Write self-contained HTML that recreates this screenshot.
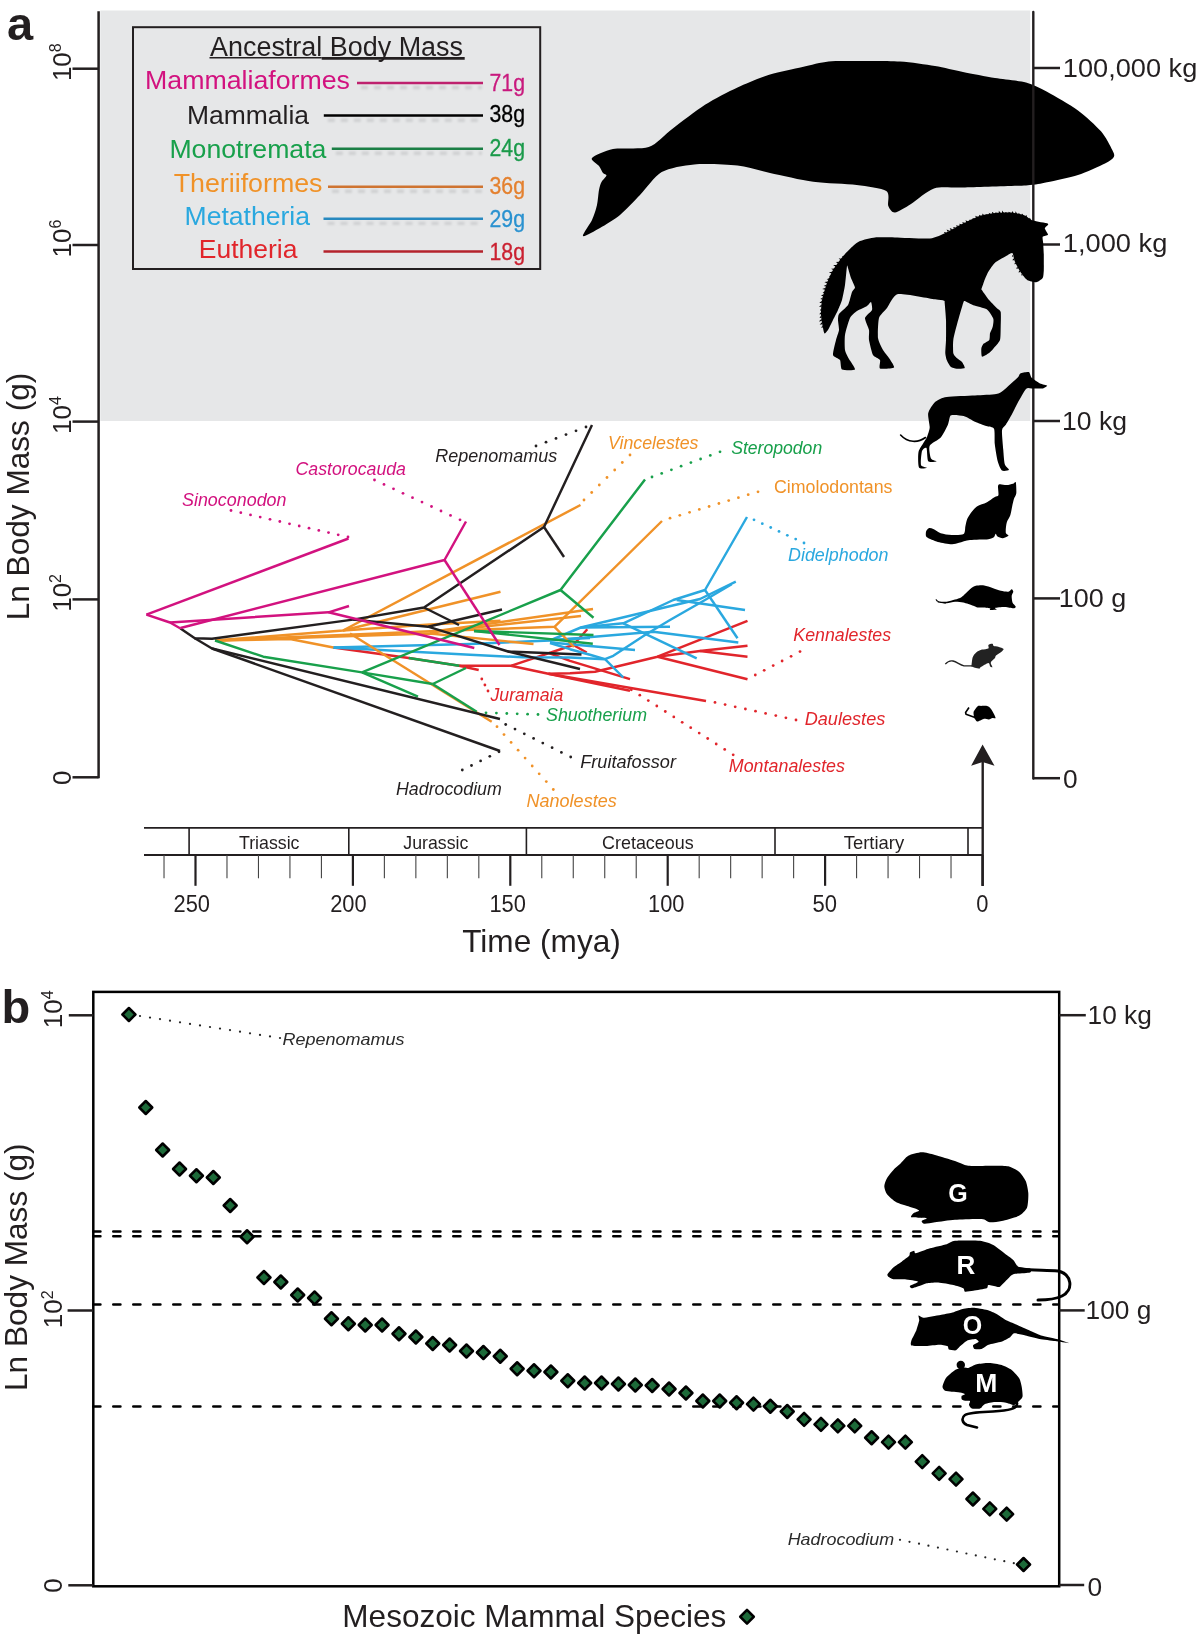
<!DOCTYPE html>
<html><head><meta charset="utf-8"><title>Mammal body mass</title>
<style>html,body{margin:0;padding:0;background:#fff;width:1200px;height:1634px;overflow:hidden;font-family:'Liberation Sans',sans-serif}</style>
</head><body>
<svg width="1200" height="1634" viewBox="0 0 1200 1634" style="position:absolute;left:0;top:0;font-family:'Liberation Sans', sans-serif;will-change:transform">
<rect x="0" y="0" width="1200" height="1634" fill="#ffffff"/>
<defs><filter id="blur1" filterUnits="userSpaceOnUse" x="0" y="0" width="1200" height="400"><feGaussianBlur stdDeviation="0.9"/></filter></defs>
<rect x="100.3" y="10.5" width="929.9" height="410.5" fill="#e6e7e8"/>
<text x="7" y="40" font-size="47" fill="#231f20" text-anchor="start" font-weight="bold" font-style="normal" >a</text>
<line x1="98.6" y1="11.2" x2="98.6" y2="778.3" stroke="#231f20" stroke-width="2.5" />
<line x1="72.5" y1="68.7" x2="98.6" y2="68.7" stroke="#231f20" stroke-width="2.5" />
<line x1="72.5" y1="245" x2="98.6" y2="245" stroke="#231f20" stroke-width="2.5" />
<line x1="72.5" y1="421.6" x2="98.6" y2="421.6" stroke="#231f20" stroke-width="2.5" />
<line x1="72.5" y1="599.4" x2="98.6" y2="599.4" stroke="#231f20" stroke-width="2.5" />
<line x1="72.5" y1="777.3" x2="98.6" y2="777.3" stroke="#231f20" stroke-width="2.5" />
<text transform="translate(70.6,81.10000000000001) rotate(-90)" x="0" y="0" font-size="26" fill="#231f20">10<tspan font-size="16" dy="-9.2">8</tspan></text>
<text transform="translate(70.6,257.4) rotate(-90)" x="0" y="0" font-size="26" fill="#231f20">10<tspan font-size="16" dy="-9.2">6</tspan></text>
<text transform="translate(70.6,434.0) rotate(-90)" x="0" y="0" font-size="26" fill="#231f20">10<tspan font-size="16" dy="-9.2">4</tspan></text>
<text transform="translate(70.6,611.8) rotate(-90)" x="0" y="0" font-size="26" fill="#231f20">10<tspan font-size="16" dy="-9.2">2</tspan></text>
<text transform="translate(70.8,777.8) rotate(-90)" x="0" y="0" font-size="26" fill="#231f20" text-anchor="middle">0</text>
<text transform="translate(29.4,620.3) rotate(-90)" x="0" y="0" font-size="31.6" fill="#231f20">Ln Body Mass (g)</text>
<line x1="1033.2" y1="68" x2="1060" y2="68" stroke="#231f20" stroke-width="2.5" />
<line x1="1033.2" y1="244.5" x2="1060" y2="244.5" stroke="#231f20" stroke-width="2.5" />
<line x1="1033.2" y1="421" x2="1060" y2="421" stroke="#231f20" stroke-width="2.5" />
<line x1="1033.2" y1="598.4" x2="1060" y2="598.4" stroke="#231f20" stroke-width="2.5" />
<line x1="1033.2" y1="778.2" x2="1060" y2="778.2" stroke="#231f20" stroke-width="2.5" />
<text x="1062.8" y="76.8" font-size="26.3" fill="#231f20" text-anchor="start" font-weight="normal" font-style="normal" textLength="134.5" lengthAdjust="spacingAndGlyphs" >100,000 kg</text>
<text x="1062.8" y="251.7" font-size="26.3" fill="#231f20" text-anchor="start" font-weight="normal" font-style="normal" textLength="104.5" lengthAdjust="spacingAndGlyphs" >1,000 kg</text>
<text x="1062" y="429.8" font-size="26.3" fill="#231f20" text-anchor="start" font-weight="normal" font-style="normal" textLength="65" lengthAdjust="spacingAndGlyphs" >10 kg</text>
<text x="1058.8" y="607" font-size="26.3" fill="#231f20" text-anchor="start" font-weight="normal" font-style="normal" textLength="67.5" lengthAdjust="spacingAndGlyphs" >100 g</text>
<text x="1063" y="788" font-size="26.3" fill="#231f20" text-anchor="start" font-weight="normal" font-style="normal" >0</text>
<rect x="133" y="27.2" width="407.2" height="241.8" fill="none" stroke="#231f20" stroke-width="2"/>
<text x="210" y="56" font-size="26.8" fill="#231f20" text-anchor="start" font-weight="normal" font-style="normal" textLength="253" lengthAdjust="spacingAndGlyphs" >Ancestral Body Mass</text>
<line x1="209.5" y1="57.7" x2="321.7" y2="57.7" stroke="#231f20" stroke-width="1.4" />
<line x1="321.7" y1="58.4" x2="464.7" y2="58.4" stroke="#231f20" stroke-width="2.6" />
<text x="145" y="89" font-size="26.3" fill="#d2127f" text-anchor="start" font-weight="normal" font-style="normal" textLength="205" lengthAdjust="spacingAndGlyphs" >Mammaliaformes</text>
<line x1="361" y1="87.5" x2="482" y2="87.5" stroke="#cfd0d2" stroke-width="3.4" stroke-dasharray="7 6" filter="url(#blur1)"/>
<line x1="357" y1="82.9" x2="483" y2="82.9" stroke="#be216e" stroke-width="2.5" />
<text x="489.5" y="90.9" font-size="23.5" fill="#c9197d" text-anchor="start" font-weight="normal" font-style="normal" textLength="35.5" lengthAdjust="spacingAndGlyphs" stroke="#c9197d" stroke-width="0.3">71g</text>
<text x="187" y="124" font-size="26.3" fill="#231f20" text-anchor="start" font-weight="normal" font-style="normal" textLength="122" lengthAdjust="spacingAndGlyphs" >Mammalia</text>
<line x1="327.8" y1="120.19999999999999" x2="482" y2="120.19999999999999" stroke="#cfd0d2" stroke-width="3.4" stroke-dasharray="7 6" filter="url(#blur1)"/>
<line x1="323.8" y1="115.6" x2="483" y2="115.6" stroke="#000000" stroke-width="2.5" />
<text x="489.5" y="122.4" font-size="23.5" fill="#000000" text-anchor="start" font-weight="normal" font-style="normal" textLength="35.5" lengthAdjust="spacingAndGlyphs" stroke="#000000" stroke-width="0.3">38g</text>
<text x="169.4" y="157.6" font-size="26.3" fill="#18a04b" text-anchor="start" font-weight="normal" font-style="normal" textLength="157" lengthAdjust="spacingAndGlyphs" >Monotremata</text>
<line x1="335.8" y1="153.29999999999998" x2="482" y2="153.29999999999998" stroke="#cfd0d2" stroke-width="3.4" stroke-dasharray="7 6" filter="url(#blur1)"/>
<line x1="331.8" y1="148.7" x2="483" y2="148.7" stroke="#1b7f45" stroke-width="2.5" />
<text x="489.5" y="155.8" font-size="23.5" fill="#1a9a4a" text-anchor="start" font-weight="normal" font-style="normal" textLength="35.5" lengthAdjust="spacingAndGlyphs" stroke="#1a9a4a" stroke-width="0.3">24g</text>
<text x="173.7" y="191.6" font-size="26.3" fill="#f09228" text-anchor="start" font-weight="normal" font-style="normal" textLength="148.8" lengthAdjust="spacingAndGlyphs" >Theriiformes</text>
<line x1="332" y1="191.29999999999998" x2="482" y2="191.29999999999998" stroke="#cfd0d2" stroke-width="3.4" stroke-dasharray="7 6" filter="url(#blur1)"/>
<line x1="328" y1="186.7" x2="483" y2="186.7" stroke="#cf7431" stroke-width="2.5" />
<text x="489.5" y="193.8" font-size="23.5" fill="#e4812f" text-anchor="start" font-weight="normal" font-style="normal" textLength="35.5" lengthAdjust="spacingAndGlyphs" stroke="#e4812f" stroke-width="0.3">36g</text>
<text x="184.5" y="225" font-size="26.3" fill="#2aa8df" text-anchor="start" font-weight="normal" font-style="normal" textLength="125.5" lengthAdjust="spacingAndGlyphs" >Metatheria</text>
<line x1="327.5" y1="223.4" x2="482" y2="223.4" stroke="#cfd0d2" stroke-width="3.4" stroke-dasharray="7 6" filter="url(#blur1)"/>
<line x1="323.5" y1="218.8" x2="483" y2="218.8" stroke="#2889bf" stroke-width="2.5" />
<text x="489.5" y="226.6" font-size="23.5" fill="#2a92d0" text-anchor="start" font-weight="normal" font-style="normal" textLength="35.5" lengthAdjust="spacingAndGlyphs" stroke="#2a92d0" stroke-width="0.3">29g</text>
<text x="198.8" y="258" font-size="26.3" fill="#e1252b" text-anchor="start" font-weight="normal" font-style="normal" textLength="98.6" lengthAdjust="spacingAndGlyphs" >Eutheria</text>
<line x1="323.5" y1="251.6" x2="483" y2="251.6" stroke="#b4232c" stroke-width="2.5" />
<text x="489.5" y="260" font-size="23.5" fill="#cb2030" text-anchor="start" font-weight="normal" font-style="normal" textLength="35.5" lengthAdjust="spacingAndGlyphs" stroke="#cb2030" stroke-width="0.3">18g</text>
<path d="M592.0,158.0 C593.9,155.7 605.4,150.5 613.0,149.0 C620.6,147.5 640.8,149.8 648.7,147.1 C656.6,144.4 665.0,134.3 672.5,128.7 C680.0,123.1 696.3,110.3 705.0,104.8 C713.7,99.3 728.8,91.5 737.5,87.5 C746.2,83.5 761.3,77.2 770.0,74.5 C778.7,71.8 794.7,68.6 802.5,66.9 C810.3,65.2 821.3,62.3 828.5,61.5 C835.7,60.7 847.2,61.0 856.7,61.0 C866.2,61.0 889.6,60.8 900.0,61.5 C910.4,62.2 926.6,64.6 935.0,66.0 C943.4,67.4 955.0,70.4 963.0,72.0 C971.0,73.6 986.6,76.6 995.0,78.0 C1003.4,79.4 1019.1,80.7 1026.0,82.5 C1032.9,84.3 1040.1,88.0 1047.0,91.7 C1053.9,95.4 1070.8,105.1 1078.0,110.4 C1085.2,115.7 1096.4,126.0 1101.0,131.3 C1105.6,136.6 1110.6,146.6 1112.3,150.0 C1114.0,153.4 1114.8,155.2 1113.8,157.0 C1112.8,158.8 1109.8,161.1 1105.0,163.5 C1100.2,165.9 1085.7,172.5 1078.0,175.0 C1070.3,177.5 1053.9,180.9 1047.0,182.3 C1040.1,183.7 1037.2,184.7 1026.0,185.4 C1014.8,186.1 975.3,187.1 963.0,187.5 C950.7,187.9 940.9,186.3 934.0,188.5 C927.1,190.7 916.2,200.8 911.0,204.0 C905.8,207.2 898.0,212.2 895.0,212.5 C892.0,212.8 889.5,208.9 888.3,206.0 C887.1,203.1 890.5,193.8 886.3,191.0 C882.1,188.2 866.4,186.2 856.7,185.0 C847.0,183.8 824.9,183.4 813.3,181.8 C801.7,180.2 780.1,175.2 770.0,173.0 C759.9,170.8 747.6,166.6 737.5,165.5 C727.4,164.4 704.3,163.5 694.2,164.4 C684.1,165.3 668.9,167.9 661.7,172.0 C654.5,176.1 645.6,189.3 640.0,195.0 C634.4,200.7 625.3,210.6 620.0,215.0 C614.7,219.4 604.9,225.2 600.0,228.0 C595.1,230.8 584.1,237.1 583.0,236.0 C581.9,234.9 590.1,224.1 592.0,220.0 C593.9,215.9 596.1,209.0 597.0,205.0 C597.9,201.0 598.4,193.1 599.0,190.0 C599.6,186.9 600.5,183.9 601.5,182.0 C602.5,180.1 606.3,176.7 606.5,175.5 C606.7,174.3 604.0,174.3 603.0,173.0 C602.0,171.7 600.5,168.0 599.0,166.0 C597.5,164.0 590.1,160.3 592.0,158.0Z" fill="#000"/>
<path d="M925.5,437.5 C918,443 908,443 900.6,435" fill="none" stroke="#000" stroke-width="1.6" stroke-linecap="round"/>
<path d="M926.0,531.8 C926.2,530.6 927.8,528.6 928.8,528.2 C929.7,527.8 931.7,528.3 933.3,529.0 C934.9,529.7 938.2,532.4 940.7,533.2 C943.2,534.0 948.6,534.9 951.7,535.0 C954.8,535.1 961.8,535.3 963.6,534.1 C965.4,532.9 964.9,528.3 965.4,526.3 C965.9,524.3 966.4,520.9 967.2,519.0 C968.1,517.1 970.5,513.4 971.8,511.7 C973.1,510.0 975.3,507.4 977.3,506.2 C979.3,505.0 984.2,503.7 986.5,502.5 C988.8,501.3 993.2,498.0 994.8,497.0 C996.3,496.0 998.0,496.7 998.4,495.2 C998.8,493.7 997.8,487.5 998.0,486.0 C998.2,484.5 999.1,484.3 1000.2,484.2 C1001.4,484.1 1005.0,485.2 1006.7,485.1 C1008.4,485.0 1011.8,484.1 1013.0,483.7 C1014.2,483.3 1015.4,481.0 1015.8,482.3 C1016.2,483.6 1016.5,491.1 1016.3,493.3 C1016.1,495.5 1014.5,497.1 1014.0,498.8 C1013.5,500.5 1012.7,504.0 1012.2,506.2 C1011.7,508.4 1011.0,513.1 1010.3,515.3 C1009.6,517.5 1007.3,520.4 1006.7,522.7 C1006.1,525.0 1005.5,531.0 1005.8,532.7 C1006.0,534.4 1008.9,534.8 1008.5,535.5 C1008.1,536.2 1004.5,538.1 1003.0,538.2 C1001.5,538.4 998.5,537.0 997.5,536.4 C996.5,535.8 996.2,533.6 995.7,533.7 C995.2,533.8 994.8,536.6 993.8,537.3 C992.8,538.0 991.5,538.8 988.3,539.2 C985.1,539.6 973.9,539.5 970.0,540.0 C966.1,540.5 961.4,542.2 959.0,542.8 C956.6,543.4 954.5,544.3 951.7,544.2 C948.9,544.1 941.2,542.8 937.9,541.9 C934.6,541.0 928.5,538.6 926.9,537.3 C925.3,536.0 925.8,533.0 926.0,531.8Z" fill="#000"/>
<path d="M938.3,602.5 C939.4,602.7 944.5,603.4 946.7,603.3 C948.9,603.2 952.8,601.8 955.0,601.7 C957.2,601.6 960.9,602.0 963.3,602.5 C965.7,603.0 971.4,605.1 973.3,605.8 C975.2,606.5 976.4,607.3 977.5,607.5 C978.6,607.7 980.0,607.4 981.7,607.5 C983.4,607.6 988.9,608.0 990.0,608.3 C991.1,608.6 989.1,609.8 990.0,610.0 C990.9,610.2 996.0,609.9 996.7,609.6 C997.4,609.3 993.9,608.2 995.0,607.9 C996.1,607.6 1002.6,606.9 1005.0,607.0 C1007.4,607.1 1011.9,608.3 1013.3,608.3 C1014.7,608.3 1015.9,607.5 1015.8,606.7 C1015.7,605.9 1013.0,604.0 1012.5,602.5 C1012.0,601.0 1011.6,597.2 1011.7,595.8 C1011.8,594.4 1013.3,592.6 1013.3,591.7 C1013.3,590.8 1012.4,589.2 1011.7,589.2 C1011.0,589.2 1009.8,591.5 1008.3,591.7 C1006.8,591.9 1002.9,591.3 1000.8,590.8 C998.7,590.3 994.7,588.6 992.5,587.9 C990.3,587.2 986.4,585.7 984.2,585.4 C982.0,585.1 977.7,585.3 975.8,585.8 C973.9,586.3 971.9,587.7 970.0,589.2 C968.1,590.7 963.7,595.6 961.7,597.0 C959.7,598.4 957.0,599.0 955.0,599.6 C953.0,600.2 948.9,601.4 946.7,601.7 C944.5,602.0 939.4,601.6 938.3,601.7 C937.2,601.8 937.2,602.3 938.3,602.5Z" fill="#000"/>
<path d="M936,599.4 C937,602 940,603 946,602.8" fill="none" stroke="#000" stroke-width="1.2"/>
<path d="M971.5,665.3 C971.7,664.1 972.1,658.9 972.7,657.2 C973.3,655.5 975.0,653.5 976.2,652.5 C977.4,651.5 980.4,650.1 982.0,649.6 C983.6,649.1 987.5,649.0 988.4,648.4 C989.3,647.8 987.9,645.5 988.4,644.9 C988.9,644.3 991.8,643.6 992.5,643.8 C993.2,643.9 992.9,645.7 993.7,646.1 C994.5,646.5 997.0,646.3 998.3,646.7 C999.6,647.1 1003.2,648.3 1003.6,649.0 C1004.0,649.7 1002.3,651.0 1001.2,651.9 C1000.2,652.8 996.9,654.5 996.0,655.4 C995.1,656.3 995.5,657.4 994.8,658.3 C994.1,659.2 991.1,661.2 990.8,662.4 C990.4,663.6 992.6,666.6 992.5,667.1 C992.4,667.6 990.7,667.0 990.2,666.5 C989.7,666.0 989.7,662.9 988.4,663.0 C987.1,663.1 982.0,666.4 980.8,667.1 C979.6,667.8 980.5,668.4 979.7,668.5 C978.9,668.6 976.1,668.0 975.0,667.7 C973.9,667.4 972.0,666.8 971.5,666.5 C971.0,666.2 971.3,666.5 971.5,665.3Z" fill="#222"/>
<path d="M945.3,664.2 C948,661 951,660.5 953,661 C957,662 960,665 964,665.8 L972,665.8" fill="none" stroke="#222" stroke-width="1.3"/>
<path d="M973.7,711.6 C974.2,710.2 976.4,707.2 977.4,706.4 C978.4,705.6 979.6,705.9 981.0,705.9 C982.4,705.9 986.4,705.7 987.8,706.2 C989.2,706.7 990.4,708.0 991.4,709.6 C992.4,711.2 995.5,716.8 995.6,717.9 C995.7,719.0 993.4,717.7 992.5,717.9 C991.6,718.1 990.0,719.4 988.8,719.5 C987.6,719.6 985.1,718.6 983.6,718.9 C982.1,719.2 978.5,721.4 977.4,721.5 C976.3,721.6 975.8,720.1 975.3,719.5 C974.8,718.9 974.2,718.1 974.0,717.0 C973.8,715.9 973.2,713.0 973.7,711.6Z" fill="#000"/>
<path d="M969,707.5 L965.6,712.5 L966,714.2 L975,717.4" fill="none" stroke="#000" stroke-width="1.6" stroke-linejoin="round"/>
<line x1="1033.3" y1="12" x2="1033.3" y2="778.6" stroke="#231f20" stroke-width="2.4" stroke-linecap="round"/>
<path d="M853.0,246.0 C851.5,247.3 846.3,252.6 845.0,254.0 C843.7,255.4 841.2,258.4 840.0,260.0 C838.8,261.6 834.3,267.7 833.0,270.0 C831.7,272.3 828.1,280.0 827.0,283.0 C825.9,286.0 822.6,296.8 822.0,300.0 C821.4,303.2 820.9,312.2 821.0,315.0 C821.1,317.8 822.6,326.1 823.0,328.0 C823.4,329.9 824.0,333.3 824.5,333.5 C825.0,333.7 827.1,331.4 828.0,330.0 C828.9,328.6 832.0,322.0 833.0,320.0 C834.0,318.0 837.1,312.0 838.0,310.0 C838.9,308.0 841.3,302.5 842.0,300.0 C842.7,297.5 844.5,288.4 845.0,285.0 C845.5,281.6 846.7,267.7 847.0,266.0 C847.3,264.3 847.6,266.8 848.0,268.0 C848.4,269.2 850.3,276.1 851.0,278.0 C851.7,279.9 854.9,286.1 855.0,287.5 C855.1,288.9 852.7,290.2 852.0,292.0 C851.3,293.8 849.3,302.8 848.0,305.0 C846.7,307.2 840.0,312.5 839.0,314.0 C838.0,315.5 838.0,318.4 838.0,320.0 C838.0,321.6 839.2,328.0 839.0,330.0 C838.8,332.0 836.6,337.5 836.0,340.0 C835.4,342.5 832.6,353.0 833.0,355.0 C833.4,357.0 839.1,358.6 840.0,360.0 C840.9,361.4 840.5,368.6 842.0,369.5 C843.5,370.4 854.3,370.6 855.0,369.5 C855.7,368.4 850.0,360.9 849.0,359.0 C848.0,357.1 845.4,352.4 845.0,350.0 C844.6,347.6 844.5,338.2 845.0,335.0 C845.5,331.8 848.8,320.4 850.0,318.0 C851.2,315.6 855.3,312.2 857.0,311.0 C858.7,309.8 865.6,306.9 867.0,306.0 C868.4,305.1 870.5,301.6 871.0,302.0 C871.5,302.4 872.6,308.4 872.0,310.0 C871.4,311.6 865.3,316.0 865.0,318.0 C864.7,320.0 868.6,327.8 869.0,330.0 C869.4,332.2 868.6,337.5 869.0,340.0 C869.4,342.5 871.9,353.0 873.0,355.0 C874.1,357.0 879.3,358.6 880.0,360.0 C880.7,361.4 878.6,367.8 880.0,368.5 C881.4,369.2 893.1,368.6 894.0,367.5 C894.9,366.4 890.1,359.8 889.0,358.0 C887.9,356.2 884.1,352.0 883.0,350.0 C881.9,348.0 878.4,341.2 878.0,338.0 C877.6,334.8 878.1,321.0 879.0,318.0 C879.9,315.0 885.1,310.4 887.0,308.0 C888.9,305.6 893.2,294.9 898.0,294.0 C902.8,293.1 930.4,298.6 935.0,299.3 C939.6,300.0 943.0,300.3 944.0,300.7 C945.0,301.1 944.5,301.4 944.7,303.3 C944.9,305.2 945.9,316.3 946.0,320.0 C946.1,323.7 946.1,336.7 946.0,340.0 C945.9,343.3 945.2,351.3 945.3,353.3 C945.4,355.3 946.2,358.7 946.7,360.0 C947.2,361.3 949.7,365.8 950.7,366.7 C951.7,367.6 955.3,368.6 956.7,368.7 C958.1,368.8 964.2,368.7 964.7,368.0 C965.2,367.3 962.8,363.0 962.0,362.0 C961.2,361.0 957.6,358.9 956.7,358.0 C955.8,357.1 953.6,355.1 953.3,353.3 C953.0,351.5 952.9,343.0 953.3,340.0 C953.7,337.0 956.3,327.0 957.3,323.3 C958.3,319.6 962.5,304.9 963.3,302.7 C964.1,300.5 964.3,301.0 965.3,301.3 C966.3,301.6 971.2,304.5 973.3,305.3 C975.4,306.1 984.7,308.0 986.7,309.3 C988.7,310.6 992.7,317.0 993.3,318.7 C993.9,320.4 993.0,325.2 992.7,326.7 C992.4,328.2 990.3,332.0 990.0,333.3 C989.7,334.6 990.0,338.9 989.3,340.0 C988.6,341.1 984.1,343.1 983.3,344.0 C982.5,344.9 981.4,347.4 981.3,348.7 C981.2,350.0 981.3,356.2 982.0,356.7 C982.7,357.2 987.6,354.1 988.7,353.3 C989.8,352.5 992.2,350.0 993.3,348.7 C994.4,347.4 999.3,342.2 1000.0,340.0 C1000.7,337.8 1000.6,329.5 1000.7,326.7 C1000.8,323.9 1001.1,313.9 1000.7,312.0 C1000.3,310.1 998.0,309.3 996.7,308.0 C995.4,306.7 989.5,300.6 988.0,298.7 C986.5,296.8 981.9,290.3 981.3,289.3 C980.6,288.3 981.1,289.8 981.5,288.8 C981.9,287.8 984.3,280.7 985.0,279.0 C985.7,277.3 987.5,273.1 988.5,271.5 C989.5,269.9 993.3,264.3 995.0,262.8 C996.7,261.3 1004.1,257.3 1005.8,256.3 C1007.5,255.3 1011.4,252.7 1012.3,253.1 C1013.2,253.5 1013.9,259.1 1014.5,260.7 C1015.1,262.3 1017.9,267.8 1018.8,269.3 C1019.7,270.8 1022.3,274.7 1023.2,275.8 C1024.1,276.9 1026.2,279.6 1027.5,280.2 C1028.8,280.8 1034.7,282.5 1036.2,282.3 C1037.7,282.1 1041.9,279.2 1042.7,278.0 C1043.5,276.8 1043.6,272.8 1043.8,270.4 C1043.9,268.0 1043.8,256.9 1043.8,254.2 C1043.7,251.5 1043.3,245.0 1043.2,243.3 C1043.1,241.6 1042.2,237.7 1042.7,236.8 C1043.2,235.9 1047.8,235.6 1048.0,234.7 C1048.2,233.8 1044.8,229.3 1044.8,228.2 C1044.8,227.1 1049.2,224.6 1048.0,223.8 C1046.8,223.0 1035.4,221.5 1033.0,220.6 C1030.6,219.7 1026.4,216.0 1024.2,215.2 C1022.1,214.4 1014.2,212.7 1011.2,212.5 C1008.3,212.3 998.2,212.6 995.0,213.0 C991.8,213.4 982.0,215.2 978.8,216.2 C975.5,217.3 965.8,222.2 962.5,223.8 C959.2,225.4 949.5,231.0 946.2,232.5 C943.0,234.0 935.1,238.0 930.0,238.5 C924.9,239.0 900.5,237.6 895.0,237.5 C889.5,237.4 878.5,237.2 875.0,237.5 C871.5,237.8 862.2,240.2 860.0,241.0 C857.8,241.8 854.5,244.7 853.0,246.0Z" fill="#000"/>
<path d="M944.6,233.2 L944.0,231.9 L946.5,232.2Z M947.6,231.7 L946.6,229.4 L949.6,230.7Z M950.7,230.2 L949.7,227.9 L952.7,229.2Z M953.8,228.6 L953.2,227.1 L955.8,227.6Z M956.9,227.1 L956.1,225.3 L958.9,226.1Z M960.0,225.6 L959.2,223.8 L961.9,224.6Z M963.1,224.0 L962.3,221.9 L965.1,223.1Z M966.4,222.5 L965.4,220.2 L968.4,221.6Z M969.6,221.0 L969.2,219.7 L971.6,220.1Z M972.9,219.5 L972.4,218.3 L974.9,218.6Z M976.1,218.0 L975.2,215.7 L978.1,217.1Z M979.3,216.7 L979.0,214.8 L981.5,216.3Z M982.5,216.0 L982.2,213.6 L984.7,215.6Z M985.8,215.4 L985.7,214.2 L988.0,214.9Z M989.0,214.7 L988.8,212.8 L991.2,214.3Z M992.3,214.0 L991.9,211.7 L994.5,213.6Z M995.5,213.5 L995.6,211.9 L997.7,213.4Z M998.8,213.4 L998.8,210.7 L1001.0,213.3Z M1002.0,213.3 L1002.0,210.6 L1004.2,213.2Z M1005.3,213.2 L1005.3,211.9 L1007.5,213.1Z M1008.5,213.1 L1008.6,211.8 L1010.7,213.0Z M1011.8,213.1 L1012.3,211.1 L1014.0,213.6Z M1015.0,213.8 L1015.7,211.2 L1017.2,214.2Z M1018.3,214.5 L1018.8,212.7 L1020.5,214.9Z M1021.5,215.1 L1022.0,213.6 L1023.7,215.6Z M1025.3,216.3 L1026.3,214.8 L1027.1,217.5Z M1029.1,218.7 L1029.9,217.7 L1031.0,219.9Z" fill="#000"/>
<path d="M1012.7,254.7 L1011.8,256.6 L1013.3,256.8Z M1013.7,258.2 L1012.3,260.2 L1014.3,260.3Z M1015.1,262.1 L1014.4,264.3 L1016.1,264.1Z M1017.2,266.4 L1016.2,268.7 L1018.2,268.4Z M1019.3,270.2 L1018.5,272.6 L1020.5,272.0Z M1021.5,273.5 L1021.4,275.4 L1022.7,275.3Z" fill="#000"/>
<path d="M845.3,256.5 L841.9,256.0 L843.7,258.0Z M842.3,259.0 L838.7,258.3 L840.7,260.5Z M839.5,261.8 L835.7,261.9 L838.2,263.6Z M837.1,265.1 L833.1,265.1 L835.9,266.9Z M834.8,268.4 L831.1,268.7 L833.5,270.2Z M832.7,271.6 L828.8,272.4 L831.8,273.6Z M831.2,274.9 L828.9,276.3 L830.3,276.9Z M829.7,278.1 L826.6,279.2 L828.8,280.1Z M828.2,281.4 L824.3,282.1 L827.3,283.4Z M826.8,284.6 L823.6,285.9 L826.2,286.6Z M825.8,287.8 L822.1,289.0 L825.2,289.8Z M824.8,291.0 L822.6,292.7 L824.2,293.0Z M823.8,294.2 L820.9,295.6 L823.2,296.2Z M822.8,297.4 L820.3,299.0 L822.2,299.4Z M821.9,300.8 L819.3,302.9 L821.8,303.0Z M821.7,304.5 L819.0,306.7 L821.6,306.7Z M821.4,308.3 L819.8,310.5 L821.3,310.5Z M821.2,312.0 L819.2,314.2 L821.1,314.2Z M821.1,315.5 L819.5,318.1 L821.4,317.7Z M821.6,318.8 L818.8,321.5 L821.9,321.0Z M822.1,322.0 L819.6,324.8 L822.4,324.2Z M822.6,325.3 L821.2,327.8 L822.9,327.5Z" fill="#000"/>
<path d="M1020.3,373.5 C1021.6,372.8 1027.5,371.5 1028.8,372.0 C1030.1,372.5 1030.4,376.4 1031.7,377.8 C1033.0,379.1 1038.2,382.5 1040.0,383.4 C1041.8,384.3 1046.9,384.9 1047.2,385.5 C1047.5,386.1 1044.8,388.1 1043.0,388.4 C1041.2,388.7 1033.7,388.3 1031.7,388.4 C1029.7,388.5 1027.7,387.3 1026.0,389.0 C1024.3,390.7 1019.2,400.3 1017.5,403.2 C1015.8,406.2 1013.1,412.1 1011.8,414.6 C1010.5,417.1 1007.1,422.7 1006.0,424.5 C1004.9,426.3 1002.3,427.2 1002.0,430.2 C1001.7,433.2 1003.0,446.0 1003.3,450.0 C1003.6,454.0 1004.1,461.9 1004.8,464.2 C1005.4,466.5 1009.3,469.1 1009.0,469.8 C1008.7,470.5 1003.3,471.5 1002.0,470.5 C1000.7,469.5 998.5,464.4 997.7,461.3 C996.9,458.2 995.2,448.1 994.8,444.3 C994.4,440.5 995.0,430.8 994.0,428.7 C993.0,426.6 988.5,426.8 986.3,426.0 C984.1,425.2 977.6,422.9 975.0,421.7 C972.4,420.5 966.5,416.7 963.7,416.0 C960.9,415.3 952.8,414.3 951.0,415.3 C949.2,416.3 949.2,421.9 948.0,424.5 C946.8,427.1 943.1,434.7 941.0,437.2 C938.9,439.7 930.9,443.2 929.7,445.7 C928.5,448.2 930.2,456.7 931.0,458.5 C931.8,460.3 937.1,461.0 936.8,461.3 C936.4,461.6 929.4,462.9 928.2,461.3 C927.1,459.7 927.2,449.2 926.5,448.0 C925.8,446.8 922.6,449.0 922.0,451.0 C921.4,453.0 920.4,463.1 921.0,465.0 C921.6,466.9 927.0,467.4 926.8,467.7 C926.6,468.0 920.0,469.3 919.0,467.5 C918.0,465.7 917.9,455.0 918.5,452.0 C919.1,449.0 923.0,443.8 924.0,442.0 C925.0,440.2 926.3,438.7 927.0,437.0 C927.7,435.3 929.6,430.1 929.7,427.3 C929.8,424.5 927.6,416.2 928.2,413.2 C928.9,410.2 933.1,403.7 935.3,401.8 C937.5,399.9 942.1,397.6 946.7,396.9 C951.3,396.2 969.2,395.8 975.0,395.5 C980.8,395.2 992.9,394.6 996.2,394.0 C999.6,393.4 1000.8,392.4 1003.3,390.5 C1005.8,388.6 1015.5,379.7 1017.5,377.8 C1019.5,375.8 1019.0,374.2 1020.3,373.5Z" fill="#000"/>
<line x1="982.7" y1="760" x2="982.7" y2="886" stroke="#231f20" stroke-width="2.4" />
<path d="M982.6,744.4 L994.5,765.8 L982.6,762.1 L971.1,765.8 Z" fill="#231f20"/>
<line x1="144" y1="827.8" x2="982.7" y2="827.8" stroke="#231f20" stroke-width="1.8" />
<line x1="144" y1="854.9" x2="982.7" y2="854.9" stroke="#231f20" stroke-width="2.0" />
<line x1="189.1" y1="827.8" x2="189.1" y2="854.9" stroke="#231f20" stroke-width="1.6" />
<line x1="348.8" y1="827.8" x2="348.8" y2="854.9" stroke="#231f20" stroke-width="1.6" />
<line x1="526.4" y1="827.8" x2="526.4" y2="854.9" stroke="#231f20" stroke-width="1.6" />
<line x1="775" y1="827.8" x2="775" y2="854.9" stroke="#231f20" stroke-width="1.6" />
<line x1="968" y1="827.8" x2="968" y2="854.9" stroke="#231f20" stroke-width="1.6" />
<text x="239" y="848.5" font-size="17.7" fill="#231f20" text-anchor="start" font-weight="normal" font-style="normal" textLength="60.5" lengthAdjust="spacingAndGlyphs" >Triassic</text>
<text x="403.3" y="848.5" font-size="17.7" fill="#231f20" text-anchor="start" font-weight="normal" font-style="normal" textLength="65" lengthAdjust="spacingAndGlyphs" >Jurassic</text>
<text x="602" y="848.5" font-size="17.7" fill="#231f20" text-anchor="start" font-weight="normal" font-style="normal" textLength="91.7" lengthAdjust="spacingAndGlyphs" >Cretaceous</text>
<text x="843.7" y="848.5" font-size="17.7" fill="#231f20" text-anchor="start" font-weight="normal" font-style="normal" textLength="60.5" lengthAdjust="spacingAndGlyphs" >Tertiary</text>
<line x1="951.02" y1="855" x2="951.02" y2="878.3" stroke="#444" stroke-width="1.1" />
<line x1="919.54" y1="855" x2="919.54" y2="878.3" stroke="#444" stroke-width="1.1" />
<line x1="888.06" y1="855" x2="888.06" y2="878.3" stroke="#444" stroke-width="1.1" />
<line x1="856.58" y1="855" x2="856.58" y2="878.3" stroke="#444" stroke-width="1.1" />
<line x1="793.62" y1="855" x2="793.62" y2="878.3" stroke="#444" stroke-width="1.1" />
<line x1="762.14" y1="855" x2="762.14" y2="878.3" stroke="#444" stroke-width="1.1" />
<line x1="730.66" y1="855" x2="730.66" y2="878.3" stroke="#444" stroke-width="1.1" />
<line x1="699.1800000000001" y1="855" x2="699.1800000000001" y2="878.3" stroke="#444" stroke-width="1.1" />
<line x1="636.22" y1="855" x2="636.22" y2="878.3" stroke="#444" stroke-width="1.1" />
<line x1="604.74" y1="855" x2="604.74" y2="878.3" stroke="#444" stroke-width="1.1" />
<line x1="573.26" y1="855" x2="573.26" y2="878.3" stroke="#444" stroke-width="1.1" />
<line x1="541.78" y1="855" x2="541.78" y2="878.3" stroke="#444" stroke-width="1.1" />
<line x1="478.82" y1="855" x2="478.82" y2="878.3" stroke="#444" stroke-width="1.1" />
<line x1="447.34000000000003" y1="855" x2="447.34000000000003" y2="878.3" stroke="#444" stroke-width="1.1" />
<line x1="415.86" y1="855" x2="415.86" y2="878.3" stroke="#444" stroke-width="1.1" />
<line x1="384.38" y1="855" x2="384.38" y2="878.3" stroke="#444" stroke-width="1.1" />
<line x1="321.41999999999996" y1="855" x2="321.41999999999996" y2="878.3" stroke="#444" stroke-width="1.1" />
<line x1="289.93999999999994" y1="855" x2="289.93999999999994" y2="878.3" stroke="#444" stroke-width="1.1" />
<line x1="258.4599999999999" y1="855" x2="258.4599999999999" y2="878.3" stroke="#444" stroke-width="1.1" />
<line x1="226.98000000000002" y1="855" x2="226.98000000000002" y2="878.3" stroke="#444" stroke-width="1.1" />
<line x1="164.01999999999998" y1="855" x2="164.01999999999998" y2="878.3" stroke="#444" stroke-width="1.1" />
<line x1="195.5" y1="855" x2="195.5" y2="885.8" stroke="#231f20" stroke-width="2.2" />
<text x="173.5" y="911.7" font-size="24" fill="#231f20" text-anchor="start" font-weight="normal" font-style="normal" textLength="36.5" lengthAdjust="spacingAndGlyphs" >250</text>
<line x1="352.9" y1="855" x2="352.9" y2="885.8" stroke="#231f20" stroke-width="2.2" />
<text x="330.2" y="911.7" font-size="24" fill="#231f20" text-anchor="start" font-weight="normal" font-style="normal" textLength="36.5" lengthAdjust="spacingAndGlyphs" >200</text>
<line x1="510.29999999999995" y1="855" x2="510.29999999999995" y2="885.8" stroke="#231f20" stroke-width="2.2" />
<text x="489.4" y="911.7" font-size="24" fill="#231f20" text-anchor="start" font-weight="normal" font-style="normal" textLength="36.5" lengthAdjust="spacingAndGlyphs" >150</text>
<line x1="667.7" y1="855" x2="667.7" y2="885.8" stroke="#231f20" stroke-width="2.2" />
<text x="648" y="911.7" font-size="24" fill="#231f20" text-anchor="start" font-weight="normal" font-style="normal" textLength="36.5" lengthAdjust="spacingAndGlyphs" >100</text>
<line x1="825.1" y1="855" x2="825.1" y2="885.8" stroke="#231f20" stroke-width="2.2" />
<text x="812.6" y="911.7" font-size="24" fill="#231f20" text-anchor="start" font-weight="normal" font-style="normal" textLength="24.5" lengthAdjust="spacingAndGlyphs" >50</text>
<line x1="982.5" y1="855" x2="982.5" y2="885.8" stroke="#231f20" stroke-width="2.2" />
<text x="976.3" y="911.7" font-size="24" fill="#231f20" text-anchor="start" font-weight="normal" font-style="normal" textLength="12.2" lengthAdjust="spacingAndGlyphs" >0</text>
<text x="462.2" y="952.3" font-size="31.5" fill="#231f20" text-anchor="start" font-weight="normal" font-style="normal" textLength="158.6" lengthAdjust="spacingAndGlyphs" >Time (mya)</text>
<path d="M333.3,647.5 L408.7,658 L459.3,665.7 L478.7,670" fill="none" stroke="#e1252b" stroke-width="2.45" stroke-linejoin="round" stroke-linecap="butt" />
<path d="M459.3,665.7 L510.8,665.8 L573.3,645 L587.3,629.3" fill="none" stroke="#e1252b" stroke-width="2.45" stroke-linejoin="round" stroke-linecap="butt" />
<path d="M573.3,645 L586.7,652.5" fill="none" stroke="#e1252b" stroke-width="2.45" stroke-linejoin="round" stroke-linecap="butt" />
<path d="M549,653 L570,660.8 L630,679.2" fill="none" stroke="#e1252b" stroke-width="2.45" stroke-linejoin="round" stroke-linecap="butt" />
<path d="M510.8,665.8 L548.3,673.75 L570,673.3 L595,671.7 L657.5,656.7 L747.5,620.8" fill="none" stroke="#e1252b" stroke-width="2.45" stroke-linejoin="round" stroke-linecap="butt" />
<path d="M657.5,656.7 L700,651 L747.5,645.8" fill="none" stroke="#e1252b" stroke-width="2.45" stroke-linejoin="round" stroke-linecap="butt" />
<path d="M700,651 L747.5,656.7" fill="none" stroke="#e1252b" stroke-width="2.45" stroke-linejoin="round" stroke-linecap="butt" />
<path d="M657.5,656.7 L747.5,679.2" fill="none" stroke="#e1252b" stroke-width="2.45" stroke-linejoin="round" stroke-linecap="butt" />
<path d="M548.3,673.75 L630,690.8" fill="none" stroke="#e1252b" stroke-width="2.45" stroke-linejoin="round" stroke-linecap="butt" />
<path d="M548.3,673.75 L706,701" fill="none" stroke="#e1252b" stroke-width="2.45" stroke-linejoin="round" stroke-linecap="butt" />
<path d="M333.3,647.5 L470,644 L550,640.5 L580.8,627.5 L623.3,623.3 L673.3,600 L705,590 L747,517" fill="none" stroke="#2aa8df" stroke-width="2.45" stroke-linejoin="round" stroke-linecap="butt" />
<path d="M705,590 L737.5,638.3" fill="none" stroke="#2aa8df" stroke-width="2.45" stroke-linejoin="round" stroke-linecap="butt" />
<path d="M580.8,627.5 L700,599 L735.8,581.7" fill="none" stroke="#2aa8df" stroke-width="2.45" stroke-linejoin="round" stroke-linecap="butt" />
<path d="M623.3,623.3 L696.7,658.3" fill="none" stroke="#2aa8df" stroke-width="2.45" stroke-linejoin="round" stroke-linecap="butt" />
<path d="M580.8,627.5 L670,626.7" fill="none" stroke="#2aa8df" stroke-width="2.45" stroke-linejoin="round" stroke-linecap="butt" />
<path d="M676.7,600 L745,610" fill="none" stroke="#2aa8df" stroke-width="2.45" stroke-linejoin="round" stroke-linecap="butt" />
<path d="M550,640.5 L653.3,631.7 L738.3,642.5" fill="none" stroke="#2aa8df" stroke-width="2.45" stroke-linejoin="round" stroke-linecap="butt" />
<path d="M550,642.5 L635,650" fill="none" stroke="#2aa8df" stroke-width="2.45" stroke-linejoin="round" stroke-linecap="butt" />
<path d="M550,640 L590,638" fill="none" stroke="#2aa8df" stroke-width="2.45" stroke-linejoin="round" stroke-linecap="butt" />
<path d="M333.3,647.5 L470,654.7 L523,657.3 L570,657.5 L605,659.2 L623.3,677.5" fill="none" stroke="#2aa8df" stroke-width="2.45" stroke-linejoin="round" stroke-linecap="butt" />
<path d="M550,643 L570,649.2 L590.8,655 L605,659.2" fill="none" stroke="#2aa8df" stroke-width="2.45" stroke-linejoin="round" stroke-linecap="butt" />
<path d="M605,659.2 L613.3,655.8 L645,635 L670,620 L705,600 L731.7,584.2" fill="none" stroke="#2aa8df" stroke-width="2.45" stroke-linejoin="round" stroke-linecap="butt" />
<path d="M215,640.5 L343,630.5 L580.5,505" fill="none" stroke="#f09228" stroke-width="2.45" stroke-linejoin="round" stroke-linecap="butt" />
<path d="M343,630.5 L500.5,591.8" fill="none" stroke="#f09228" stroke-width="2.45" stroke-linejoin="round" stroke-linecap="butt" />
<path d="M343,630.5 L430,624.5 L500.5,620.8" fill="none" stroke="#f09228" stroke-width="2.45" stroke-linejoin="round" stroke-linecap="butt" />
<path d="M215,640.5 L430,631.3 L554.5,626.8 L662,521" fill="none" stroke="#f09228" stroke-width="2.45" stroke-linejoin="round" stroke-linecap="butt" />
<path d="M554.5,626.8 L574,647" fill="none" stroke="#f09228" stroke-width="2.45" stroke-linejoin="round" stroke-linecap="butt" />
<path d="M215,640.5 L430,633.5 L533.5,644" fill="none" stroke="#f09228" stroke-width="2.45" stroke-linejoin="round" stroke-linecap="butt" />
<path d="M430,632 L593,609" fill="none" stroke="#f09228" stroke-width="2.45" stroke-linejoin="round" stroke-linecap="butt" />
<path d="M430,632.5 L581,616" fill="none" stroke="#f09228" stroke-width="2.45" stroke-linejoin="round" stroke-linecap="butt" />
<path d="M215,640.5 L290,639 L333.3,647.5" fill="none" stroke="#f09228" stroke-width="2.45" stroke-linejoin="round" stroke-linecap="butt" />
<path d="M350,633.5 L491.7,721.7" fill="none" stroke="#f09228" stroke-width="2.45" stroke-linejoin="round" stroke-linecap="butt" />
<path d="M215,640.5 L263.3,656.7 L362,672.4" fill="none" stroke="#18a04b" stroke-width="2.45" stroke-linejoin="round" stroke-linecap="butt" />
<path d="M362,672.4 L418,696.7" fill="none" stroke="#18a04b" stroke-width="2.45" stroke-linejoin="round" stroke-linecap="butt" />
<path d="M362,672.4 L432.7,684" fill="none" stroke="#18a04b" stroke-width="2.45" stroke-linejoin="round" stroke-linecap="butt" />
<path d="M432.7,684 L466,668" fill="none" stroke="#18a04b" stroke-width="2.45" stroke-linejoin="round" stroke-linecap="butt" />
<path d="M432.7,684 L476.7,711.7" fill="none" stroke="#18a04b" stroke-width="2.45" stroke-linejoin="round" stroke-linecap="butt" />
<path d="M362,672.4 L560.5,590 L645,479.5" fill="none" stroke="#18a04b" stroke-width="2.45" stroke-linejoin="round" stroke-linecap="butt" />
<path d="M560.5,590 L593.5,617.8" fill="none" stroke="#18a04b" stroke-width="2.45" stroke-linejoin="round" stroke-linecap="butt" />
<path d="M474,631 L593.5,635" fill="none" stroke="#18a04b" stroke-width="2.45" stroke-linejoin="round" stroke-linecap="butt" />
<path d="M474,631 L592.8,643.7" fill="none" stroke="#18a04b" stroke-width="2.45" stroke-linejoin="round" stroke-linecap="butt" />
<path d="M408.7,658 L459.3,665.7" fill="none" stroke="#18a04b" stroke-width="2.45" stroke-linejoin="round" stroke-linecap="butt" />
<path d="M180.5,628.5 L194.8,638.3 L212,638.8 L353,619.6 L424,607.5 L544,527 L592,425" fill="none" stroke="#231f20" stroke-width="2.45" stroke-linejoin="round" stroke-linecap="butt" />
<path d="M544,527 L564,557" fill="none" stroke="#231f20" stroke-width="2.45" stroke-linejoin="round" stroke-linecap="butt" />
<path d="M424,607.5 L459,625" fill="none" stroke="#231f20" stroke-width="2.45" stroke-linejoin="round" stroke-linecap="butt" />
<path d="M353,619.6 L428,626.7 L502,609.5" fill="none" stroke="#231f20" stroke-width="2.45" stroke-linejoin="round" stroke-linecap="butt" />
<path d="M428,626.7 L508,651.5 L581.5,654.5" fill="none" stroke="#231f20" stroke-width="2.45" stroke-linejoin="round" stroke-linecap="butt" />
<path d="M508,651.5 L580,669" fill="none" stroke="#231f20" stroke-width="2.45" stroke-linejoin="round" stroke-linecap="butt" />
<path d="M194.8,638.3 L212,648.5 L500,719" fill="none" stroke="#231f20" stroke-width="2.45" stroke-linejoin="round" stroke-linecap="butt" />
<path d="M212,648.5 L500,751" fill="none" stroke="#231f20" stroke-width="2.45" stroke-linejoin="round" stroke-linecap="butt" />
<path d="M146.4,614.6 L348.5,538.5" fill="none" stroke="#d2127f" stroke-width="2.45" stroke-linejoin="round" stroke-linecap="butt" />
<path d="M146.4,614.6 L170,622.5 L180.5,628.5" fill="none" stroke="#d2127f" stroke-width="2.45" stroke-linejoin="round" stroke-linecap="butt" />
<path d="M170,622.5 L328.5,612.3 L349,606" fill="none" stroke="#d2127f" stroke-width="2.45" stroke-linejoin="round" stroke-linecap="butt" />
<path d="M328.5,612.3 L474.3,648" fill="none" stroke="#d2127f" stroke-width="2.45" stroke-linejoin="round" stroke-linecap="butt" />
<path d="M180.5,628 L444.5,560 L466,521.5" fill="none" stroke="#d2127f" stroke-width="2.45" stroke-linejoin="round" stroke-linecap="butt" />
<path d="M444.5,560 L499.5,645" fill="none" stroke="#d2127f" stroke-width="2.45" stroke-linejoin="round" stroke-linecap="butt" />
<circle cx="348.0" cy="537.0" r="1.4" fill="#d2127f"/>
<circle cx="338.2" cy="534.8" r="1.4" fill="#d2127f"/>
<circle cx="328.5" cy="532.6" r="1.4" fill="#d2127f"/>
<circle cx="318.8" cy="530.4" r="1.4" fill="#d2127f"/>
<circle cx="309.0" cy="528.2" r="1.4" fill="#d2127f"/>
<circle cx="299.2" cy="526.0" r="1.4" fill="#d2127f"/>
<circle cx="289.5" cy="523.8" r="1.4" fill="#d2127f"/>
<circle cx="279.8" cy="521.5" r="1.4" fill="#d2127f"/>
<circle cx="270.0" cy="519.3" r="1.4" fill="#d2127f"/>
<circle cx="260.2" cy="517.1" r="1.4" fill="#d2127f"/>
<circle cx="250.5" cy="514.9" r="1.4" fill="#d2127f"/>
<circle cx="240.8" cy="512.7" r="1.4" fill="#d2127f"/>
<circle cx="231.0" cy="510.5" r="1.4" fill="#d2127f"/>
<circle cx="460.0" cy="519.8" r="1.4" fill="#d2127f"/>
<circle cx="450.5" cy="515.4" r="1.4" fill="#d2127f"/>
<circle cx="441.0" cy="511.0" r="1.4" fill="#d2127f"/>
<circle cx="431.5" cy="506.5" r="1.4" fill="#d2127f"/>
<circle cx="422.0" cy="502.1" r="1.4" fill="#d2127f"/>
<circle cx="412.5" cy="497.7" r="1.4" fill="#d2127f"/>
<circle cx="403.0" cy="493.3" r="1.4" fill="#d2127f"/>
<circle cx="393.5" cy="488.8" r="1.4" fill="#d2127f"/>
<circle cx="384.0" cy="484.4" r="1.4" fill="#d2127f"/>
<circle cx="374.5" cy="480.0" r="1.4" fill="#d2127f"/>
<circle cx="586.0" cy="427.0" r="1.4" fill="#231f20"/>
<circle cx="576.0" cy="430.8" r="1.4" fill="#231f20"/>
<circle cx="566.0" cy="434.6" r="1.4" fill="#231f20"/>
<circle cx="556.0" cy="438.4" r="1.4" fill="#231f20"/>
<circle cx="546.0" cy="442.2" r="1.4" fill="#231f20"/>
<circle cx="536.0" cy="446.0" r="1.4" fill="#231f20"/>
<circle cx="584.0" cy="500.0" r="1.4" fill="#f09228"/>
<circle cx="591.7" cy="492.5" r="1.4" fill="#f09228"/>
<circle cx="599.3" cy="485.0" r="1.4" fill="#f09228"/>
<circle cx="607.0" cy="477.5" r="1.4" fill="#f09228"/>
<circle cx="614.7" cy="470.0" r="1.4" fill="#f09228"/>
<circle cx="622.3" cy="462.5" r="1.4" fill="#f09228"/>
<circle cx="630.0" cy="455.0" r="1.4" fill="#f09228"/>
<circle cx="652.0" cy="477.0" r="1.4" fill="#18a04b"/>
<circle cx="661.7" cy="473.4" r="1.4" fill="#18a04b"/>
<circle cx="671.4" cy="469.8" r="1.4" fill="#18a04b"/>
<circle cx="681.1" cy="466.2" r="1.4" fill="#18a04b"/>
<circle cx="690.9" cy="462.6" r="1.4" fill="#18a04b"/>
<circle cx="700.6" cy="459.0" r="1.4" fill="#18a04b"/>
<circle cx="710.3" cy="455.4" r="1.4" fill="#18a04b"/>
<circle cx="720.0" cy="451.8" r="1.4" fill="#18a04b"/>
<circle cx="670.0" cy="518.2" r="1.4" fill="#f09228"/>
<circle cx="679.8" cy="515.3" r="1.4" fill="#f09228"/>
<circle cx="689.6" cy="512.3" r="1.4" fill="#f09228"/>
<circle cx="699.3" cy="509.4" r="1.4" fill="#f09228"/>
<circle cx="709.1" cy="506.5" r="1.4" fill="#f09228"/>
<circle cx="718.9" cy="503.5" r="1.4" fill="#f09228"/>
<circle cx="728.7" cy="500.6" r="1.4" fill="#f09228"/>
<circle cx="738.4" cy="497.7" r="1.4" fill="#f09228"/>
<circle cx="748.2" cy="494.7" r="1.4" fill="#f09228"/>
<circle cx="758.0" cy="491.8" r="1.4" fill="#f09228"/>
<circle cx="754.0" cy="519.8" r="1.4" fill="#2aa8df"/>
<circle cx="762.3" cy="523.7" r="1.4" fill="#2aa8df"/>
<circle cx="770.7" cy="527.5" r="1.4" fill="#2aa8df"/>
<circle cx="779.0" cy="531.4" r="1.4" fill="#2aa8df"/>
<circle cx="787.3" cy="535.3" r="1.4" fill="#2aa8df"/>
<circle cx="795.7" cy="539.1" r="1.4" fill="#2aa8df"/>
<circle cx="804.0" cy="543.0" r="1.4" fill="#2aa8df"/>
<circle cx="755.3" cy="675.0" r="1.4" fill="#e1252b"/>
<circle cx="764.2" cy="670.3" r="1.4" fill="#e1252b"/>
<circle cx="773.2" cy="665.6" r="1.4" fill="#e1252b"/>
<circle cx="782.1" cy="661.0" r="1.4" fill="#e1252b"/>
<circle cx="791.1" cy="656.3" r="1.4" fill="#e1252b"/>
<circle cx="800.0" cy="651.6" r="1.4" fill="#e1252b"/>
<circle cx="481.8" cy="679.0" r="1.4" fill="#e1252b"/>
<circle cx="484.9" cy="685.0" r="1.4" fill="#e1252b"/>
<circle cx="488.0" cy="691.0" r="1.4" fill="#e1252b"/>
<circle cx="486.0" cy="712.8" r="1.4" fill="#18a04b"/>
<circle cx="496.4" cy="713.1" r="1.4" fill="#18a04b"/>
<circle cx="506.8" cy="713.5" r="1.4" fill="#18a04b"/>
<circle cx="517.2" cy="713.8" r="1.4" fill="#18a04b"/>
<circle cx="527.6" cy="714.2" r="1.4" fill="#18a04b"/>
<circle cx="538.0" cy="714.5" r="1.4" fill="#18a04b"/>
<circle cx="505.7" cy="724.5" r="1.4" fill="#231f20"/>
<circle cx="515.0" cy="729.1" r="1.4" fill="#231f20"/>
<circle cx="524.3" cy="733.8" r="1.4" fill="#231f20"/>
<circle cx="533.6" cy="738.4" r="1.4" fill="#231f20"/>
<circle cx="542.8" cy="743.1" r="1.4" fill="#231f20"/>
<circle cx="552.1" cy="747.7" r="1.4" fill="#231f20"/>
<circle cx="561.4" cy="752.4" r="1.4" fill="#231f20"/>
<circle cx="570.7" cy="757.0" r="1.4" fill="#231f20"/>
<circle cx="499.0" cy="751.8" r="1.4" fill="#231f20"/>
<circle cx="489.8" cy="756.3" r="1.4" fill="#231f20"/>
<circle cx="480.6" cy="760.9" r="1.4" fill="#231f20"/>
<circle cx="471.5" cy="765.5" r="1.4" fill="#231f20"/>
<circle cx="462.3" cy="770.0" r="1.4" fill="#231f20"/>
<circle cx="497.0" cy="726.7" r="1.4" fill="#f09228"/>
<circle cx="504.0" cy="734.6" r="1.4" fill="#f09228"/>
<circle cx="511.1" cy="742.4" r="1.4" fill="#f09228"/>
<circle cx="518.1" cy="750.2" r="1.4" fill="#f09228"/>
<circle cx="525.1" cy="758.1" r="1.4" fill="#f09228"/>
<circle cx="532.2" cy="766.0" r="1.4" fill="#f09228"/>
<circle cx="539.2" cy="773.8" r="1.4" fill="#f09228"/>
<circle cx="546.3" cy="781.6" r="1.4" fill="#f09228"/>
<circle cx="553.3" cy="789.5" r="1.4" fill="#f09228"/>
<circle cx="631.3" cy="689.8" r="1.4" fill="#e1252b"/>
<circle cx="639.8" cy="695.2" r="1.4" fill="#e1252b"/>
<circle cx="648.3" cy="700.6" r="1.4" fill="#e1252b"/>
<circle cx="656.8" cy="706.0" r="1.4" fill="#e1252b"/>
<circle cx="665.3" cy="711.5" r="1.4" fill="#e1252b"/>
<circle cx="673.8" cy="716.9" r="1.4" fill="#e1252b"/>
<circle cx="682.2" cy="722.3" r="1.4" fill="#e1252b"/>
<circle cx="690.7" cy="727.7" r="1.4" fill="#e1252b"/>
<circle cx="699.2" cy="733.1" r="1.4" fill="#e1252b"/>
<circle cx="707.7" cy="738.5" r="1.4" fill="#e1252b"/>
<circle cx="716.2" cy="744.0" r="1.4" fill="#e1252b"/>
<circle cx="724.7" cy="749.4" r="1.4" fill="#e1252b"/>
<circle cx="733.2" cy="754.8" r="1.4" fill="#e1252b"/>
<circle cx="715.0" cy="702.4" r="1.4" fill="#e1252b"/>
<circle cx="725.1" cy="704.6" r="1.4" fill="#e1252b"/>
<circle cx="735.2" cy="706.8" r="1.4" fill="#e1252b"/>
<circle cx="745.4" cy="709.0" r="1.4" fill="#e1252b"/>
<circle cx="755.5" cy="711.2" r="1.4" fill="#e1252b"/>
<circle cx="765.6" cy="713.4" r="1.4" fill="#e1252b"/>
<circle cx="775.8" cy="715.6" r="1.4" fill="#e1252b"/>
<circle cx="785.9" cy="717.8" r="1.4" fill="#e1252b"/>
<circle cx="796.0" cy="720.0" r="1.4" fill="#e1252b"/>
<text x="182" y="506.3" font-size="17.6" fill="#d2127f" text-anchor="start" font-weight="normal" font-style="italic" textLength="104.5" lengthAdjust="spacingAndGlyphs" >Sinoconodon</text>
<text x="295.5" y="475" font-size="17.6" fill="#d2127f" text-anchor="start" font-weight="normal" font-style="italic" textLength="110.5" lengthAdjust="spacingAndGlyphs" >Castorocauda</text>
<text x="435.2" y="462.2" font-size="17.6" fill="#231f20" text-anchor="start" font-weight="normal" font-style="italic" textLength="122" lengthAdjust="spacingAndGlyphs" >Repenomamus</text>
<text x="608" y="449" font-size="17.6" fill="#f09228" text-anchor="start" font-weight="normal" font-style="italic" textLength="90.5" lengthAdjust="spacingAndGlyphs" >Vincelestes</text>
<text x="731.2" y="454.2" font-size="17.6" fill="#18a04b" text-anchor="start" font-weight="normal" font-style="italic" textLength="91" lengthAdjust="spacingAndGlyphs" >Steropodon</text>
<text x="774" y="493" font-size="17.6" fill="#f09228" text-anchor="start" font-weight="normal" font-style="normal" textLength="118.5" lengthAdjust="spacingAndGlyphs" >Cimolodontans</text>
<text x="788" y="561" font-size="17.6" fill="#2aa8df" text-anchor="start" font-weight="normal" font-style="italic" textLength="100.5" lengthAdjust="spacingAndGlyphs" >Didelphodon</text>
<text x="793.3" y="641.3" font-size="17.6" fill="#e1252b" text-anchor="start" font-weight="normal" font-style="italic" textLength="97.8" lengthAdjust="spacingAndGlyphs" >Kennalestes</text>
<text x="490.5" y="700.7" font-size="17.6" fill="#e1252b" text-anchor="start" font-weight="normal" font-style="italic" textLength="72.8" lengthAdjust="spacingAndGlyphs" >Juramaia</text>
<text x="546" y="721" font-size="17.6" fill="#18a04b" text-anchor="start" font-weight="normal" font-style="italic" textLength="101" lengthAdjust="spacingAndGlyphs" >Shuotherium</text>
<text x="580.2" y="767.8" font-size="17.6" fill="#231f20" text-anchor="start" font-weight="normal" font-style="italic" textLength="95.8" lengthAdjust="spacingAndGlyphs" >Fruitafossor</text>
<text x="396" y="794.7" font-size="17.6" fill="#231f20" text-anchor="start" font-weight="normal" font-style="italic" textLength="105.8" lengthAdjust="spacingAndGlyphs" >Hadrocodium</text>
<text x="526.5" y="806.8" font-size="17.6" fill="#f09228" text-anchor="start" font-weight="normal" font-style="italic" textLength="90.2" lengthAdjust="spacingAndGlyphs" >Nanolestes</text>
<text x="728.8" y="772.2" font-size="17.6" fill="#e1252b" text-anchor="start" font-weight="normal" font-style="italic" textLength="116.2" lengthAdjust="spacingAndGlyphs" >Montanalestes</text>
<text x="804.7" y="725.4" font-size="17.6" fill="#e1252b" text-anchor="start" font-weight="normal" font-style="italic" textLength="80.6" lengthAdjust="spacingAndGlyphs" >Daulestes</text>
<text x="1.6" y="1022.5" font-size="47" fill="#231f20" text-anchor="start" font-weight="bold" font-style="normal" >b</text>
<rect x="93.3" y="991.9" width="965.9" height="594.4" fill="none" stroke="#000" stroke-width="2.5"/>
<line x1="68.8" y1="1015.3" x2="93.3" y2="1015.3" stroke="#231f20" stroke-width="2.5" />
<line x1="67.6" y1="1310.5" x2="93.3" y2="1310.5" stroke="#231f20" stroke-width="2.5" />
<line x1="68.3" y1="1585.3" x2="93.3" y2="1585.3" stroke="#231f20" stroke-width="2.5" />
<text transform="translate(61.8,1028.2) rotate(-90)" x="0" y="0" font-size="26" fill="#231f20">10<tspan font-size="16" dy="-8.4">4</tspan></text>
<text transform="translate(61.8,1328.2) rotate(-90)" x="0" y="0" font-size="26" fill="#231f20">10<tspan font-size="16" dy="-8.4">2</tspan></text>
<text transform="translate(61.8,1585.6) rotate(-90)" x="0" y="0" font-size="26" fill="#231f20" text-anchor="middle">0</text>
<text transform="translate(27,1391) rotate(-90)" x="0" y="0" font-size="31.6" fill="#231f20">Ln Body Mass (g)</text>
<line x1="1059.2" y1="1015.2" x2="1085.8" y2="1015.2" stroke="#231f20" stroke-width="2.5" />
<line x1="1059.2" y1="1310.4" x2="1084.7" y2="1310.4" stroke="#231f20" stroke-width="2.5" />
<line x1="1059.2" y1="1585" x2="1084.2" y2="1585" stroke="#231f20" stroke-width="2.5" />
<text x="1087.5" y="1023.7" font-size="26.3" fill="#231f20" text-anchor="start" font-weight="normal" font-style="normal" >10 kg</text>
<text x="1085.5" y="1318.7" font-size="26.3" fill="#231f20" text-anchor="start" font-weight="normal" font-style="normal" >100 g</text>
<text x="1087.5" y="1595.8" font-size="26.3" fill="#231f20" text-anchor="start" font-weight="normal" font-style="normal" >0</text>
<path d="M921.7,1152.3 C918.6,1152.4 910.8,1154.4 908.3,1155.7 C905.8,1157.0 901.9,1162.2 900.3,1163.7 C898.7,1165.2 896.6,1166.6 895.0,1168.3 C893.4,1170.0 888.2,1176.2 887.0,1178.3 C885.8,1180.4 884.3,1184.4 884.3,1186.3 C884.3,1188.2 885.6,1192.4 887.0,1194.3 C888.4,1196.2 893.8,1200.9 896.3,1202.3 C898.8,1203.7 905.7,1205.4 908.3,1206.3 C910.9,1207.2 918.4,1209.5 919.0,1210.3 C919.6,1211.1 914.6,1212.2 913.7,1213.0 C912.8,1213.8 910.4,1216.5 911.0,1217.0 C911.6,1217.5 917.1,1217.5 919.0,1217.7 C920.9,1217.9 926.7,1217.9 927.0,1218.3 C927.3,1218.7 922.0,1220.4 921.7,1221.0 C921.4,1221.6 922.7,1223.5 924.3,1223.7 C925.9,1223.9 931.4,1222.8 935.0,1222.3 C938.6,1221.8 949.6,1220.1 955.0,1219.7 C960.4,1219.3 977.7,1218.7 981.7,1219.0 C985.7,1219.3 987.4,1222.1 989.7,1222.3 C992.0,1222.5 998.3,1221.8 1001.7,1221.0 C1005.1,1220.2 1016.0,1217.3 1019.0,1215.7 C1022.0,1214.1 1025.9,1210.3 1027.0,1207.7 C1028.1,1205.1 1028.5,1196.1 1028.3,1193.0 C1028.1,1189.9 1026.8,1183.5 1025.7,1181.0 C1024.6,1178.5 1021.0,1173.4 1019.0,1171.7 C1017.0,1170.0 1011.1,1167.0 1008.3,1166.3 C1005.5,1165.6 999.7,1165.8 995.0,1165.7 C990.3,1165.6 973.0,1166.2 968.3,1165.7 C963.6,1165.2 958.9,1162.2 955.0,1161.0 C951.1,1159.8 938.9,1156.0 935.0,1155.0 C931.1,1154.0 924.8,1152.2 921.7,1152.3Z" fill="#000"/>
<path d="M887.5,1274.2 C888.0,1273.3 891.9,1268.8 893.3,1267.5 C894.7,1266.2 900.1,1262.9 901.7,1261.7 C903.3,1260.5 908.4,1256.7 909.2,1255.8 C910.0,1254.9 909.5,1253.0 910.0,1252.5 C910.5,1252.0 913.6,1250.7 914.2,1250.8 C914.8,1250.9 914.2,1253.5 915.8,1253.3 C917.4,1253.0 926.9,1249.2 930.0,1248.3 C933.1,1247.4 944.2,1245.0 946.7,1244.2 C949.2,1243.5 951.7,1241.1 955.0,1240.8 C958.3,1240.5 976.2,1240.4 980.0,1240.8 C983.8,1241.2 990.6,1243.6 993.3,1245.0 C996.0,1246.4 1004.7,1253.5 1006.7,1255.0 C1008.7,1256.5 1012.1,1258.8 1013.3,1260.0 C1014.5,1261.2 1016.6,1265.9 1018.3,1266.7 C1020.0,1267.5 1028.8,1267.9 1030.0,1268.5 C1031.2,1269.1 1031.7,1271.9 1030.0,1272.5 C1028.3,1273.1 1015.6,1273.5 1013.3,1274.2 C1011.0,1275.0 1008.0,1278.8 1006.7,1280.0 C1005.4,1281.2 1001.0,1286.0 1000.0,1286.7 C999.0,1287.4 997.9,1286.9 996.7,1286.7 C995.5,1286.5 989.3,1284.8 988.3,1285.0 C987.3,1285.2 988.2,1287.7 986.7,1288.3 C985.2,1288.9 975.5,1290.5 973.3,1290.8 C971.1,1291.1 966.0,1292.0 965.0,1291.7 C964.0,1291.5 964.5,1289.0 963.3,1288.3 C962.1,1287.6 955.8,1285.6 953.3,1285.0 C950.8,1284.4 941.0,1282.7 938.3,1282.5 C935.6,1282.3 928.5,1283.0 926.7,1283.3 C924.9,1283.6 921.5,1285.3 920.0,1285.8 C918.5,1286.3 912.7,1288.3 911.7,1288.3 C910.7,1288.3 909.3,1286.5 910.0,1285.8 C910.7,1285.1 918.8,1282.4 918.3,1281.7 C917.8,1281.0 907.5,1279.5 905.0,1279.2 C902.5,1279.0 895.0,1279.5 893.3,1279.2 C891.6,1279.0 888.9,1277.2 888.3,1276.7 C887.7,1276.2 887.0,1275.1 887.5,1274.2Z" fill="#000"/>
<path d="M1020,1269 C1032,1270.5 1046,1270 1058,1271 C1072,1274 1074,1290 1062,1296 C1055,1299.5 1046,1300 1038,1300" fill="none" stroke="#000" stroke-width="3" stroke-linecap="round"/>
<path d="M918.5,1315.6 C918.9,1315.4 921.6,1317.8 923.4,1317.7 C925.2,1317.6 938.0,1315.3 940.4,1314.9 C942.8,1314.5 949.9,1313.3 951.7,1312.8 C953.5,1312.3 959.9,1309.6 961.7,1309.2 C963.5,1308.8 970.9,1307.7 973.0,1307.8 C975.1,1307.9 985.2,1309.5 987.2,1310.0 C989.2,1310.5 995.4,1313.3 997.0,1314.2 C998.6,1315.1 1005.2,1319.7 1007.0,1320.6 C1008.8,1321.5 1016.4,1324.7 1018.3,1325.5 C1020.2,1326.3 1027.7,1329.7 1029.6,1330.5 C1031.5,1331.3 1038.8,1334.8 1041.0,1335.5 C1043.2,1336.2 1054.2,1338.4 1056.6,1339.0 C1059.0,1339.6 1069.4,1343.0 1069.3,1343.2 C1069.2,1343.4 1057.6,1341.4 1055.1,1341.1 C1052.6,1340.8 1042.1,1339.5 1039.6,1339.0 C1037.1,1338.5 1027.5,1336.0 1025.4,1335.5 C1023.3,1335.0 1015.3,1333.1 1014.0,1333.3 C1012.7,1333.5 1010.9,1336.9 1009.8,1337.6 C1008.7,1338.3 1003.1,1341.2 1001.3,1341.8 C999.5,1342.4 990.2,1344.1 988.6,1344.7 C987.0,1345.3 982.7,1348.6 981.5,1349.0 C980.3,1349.4 975.1,1349.3 974.4,1349.0 C973.7,1348.7 972.6,1346.0 973.0,1345.4 C973.4,1344.8 978.5,1342.3 978.7,1341.8 C978.9,1341.3 976.8,1339.1 975.8,1339.0 C974.8,1338.9 968.6,1339.8 967.3,1340.4 C966.0,1341.0 961.1,1345.2 960.2,1346.0 C959.3,1346.8 956.9,1350.0 956.0,1350.3 C955.1,1350.6 949.6,1350.0 948.9,1349.6 C948.2,1349.2 948.3,1346.4 947.5,1346.0 C946.7,1345.6 940.8,1344.7 939.0,1344.7 C937.2,1344.7 928.5,1345.9 926.2,1346.0 C923.9,1346.1 912.6,1345.9 911.4,1345.4 C910.2,1344.9 911.0,1341.6 911.4,1340.4 C911.8,1339.2 915.6,1332.2 916.3,1330.5 C916.9,1328.8 919.0,1321.8 919.2,1320.6 C919.4,1319.4 918.1,1315.8 918.5,1315.6Z" fill="#000"/>
<path d="M956.7,1369.2 C955.2,1369.8 953.0,1371.4 951.7,1372.5 C950.4,1373.6 946.9,1376.6 945.8,1378.3 C944.7,1380.0 942.6,1385.2 942.5,1386.7 C942.4,1388.2 943.9,1390.2 945.0,1390.8 C946.1,1391.4 950.0,1391.5 951.7,1391.7 C953.5,1391.9 958.4,1392.2 960.0,1392.5 C961.6,1392.8 964.8,1393.8 965.0,1394.2 C965.2,1394.6 962.1,1395.2 961.7,1395.8 C961.3,1396.4 961.3,1398.6 961.7,1399.2 C962.1,1399.8 964.0,1400.6 965.0,1400.8 C966.0,1401.0 969.5,1400.5 970.0,1401.0 C970.5,1401.5 968.8,1404.1 969.0,1405.0 C969.2,1405.9 970.7,1408.1 972.0,1408.5 C973.3,1408.9 978.5,1409.0 980.0,1408.5 C981.5,1408.0 983.2,1404.8 985.0,1404.0 C986.8,1403.2 992.7,1402.2 995.0,1402.0 C997.3,1401.8 1002.8,1402.2 1005.0,1402.5 C1007.2,1402.8 1012.4,1405.1 1014.0,1405.0 C1015.6,1404.9 1017.3,1402.7 1018.3,1401.7 C1019.3,1400.7 1022.1,1398.5 1022.5,1396.7 C1022.9,1395.0 1022.1,1388.8 1021.7,1386.7 C1021.3,1384.6 1020.4,1380.2 1019.2,1378.3 C1018.0,1376.4 1013.7,1371.6 1011.7,1370.0 C1009.7,1368.4 1004.3,1365.8 1001.7,1365.0 C999.1,1364.2 992.1,1363.0 989.2,1362.9 C986.3,1362.8 979.1,1363.6 976.7,1364.2 C974.3,1364.8 969.8,1367.5 968.3,1367.9 C966.8,1368.3 965.6,1367.3 964.2,1367.5 C962.8,1367.7 958.2,1368.6 956.7,1369.2Z" fill="#000"/>
<circle cx="960.8" cy="1365" r="4.2" fill="#000"/>
<path d="M1017,1403 C1018,1409 1008,1410.5 993,1411.5 C982,1412 970,1412 965,1415 C961,1418 962,1423 967,1425 L977,1427.5" fill="none" stroke="#000" stroke-width="2.6" stroke-linecap="round"/>
<text x="958" y="1202" font-size="25" font-weight="bold" fill="#fff" text-anchor="middle">G</text>
<text x="966" y="1274.2" font-size="26" font-weight="bold" fill="#fff" text-anchor="middle">R</text>
<text x="972.6" y="1334.4" font-size="25" font-weight="bold" fill="#fff" text-anchor="middle">O</text>
<text x="986.3" y="1392" font-size="26.5" font-weight="bold" fill="#fff" text-anchor="middle">M</text>
<line x1="93.25" y1="1231.4" x2="1057.5" y2="1231.4" stroke="#000" stroke-width="2.5" stroke-dasharray="7.2 12.8" stroke-linecap="round"/>
<line x1="93.25" y1="1236.3" x2="1057.5" y2="1236.3" stroke="#000" stroke-width="2.5" stroke-dasharray="7.2 12.8" stroke-linecap="round"/>
<line x1="93.25" y1="1304.5" x2="1057.5" y2="1304.5" stroke="#000" stroke-width="2.5" stroke-dasharray="7.2 12.8" stroke-linecap="round"/>
<line x1="93.25" y1="1406.6" x2="1057.5" y2="1406.6" stroke="#000" stroke-width="2.5" stroke-dasharray="7.2 12.8" stroke-linecap="round"/>
<path d="M128.9,1008.0 L135.4,1014.5 L128.9,1021.0 L122.4,1014.5 Z" fill="#1d6a39" stroke="#000" stroke-width="2.5" stroke-linejoin="round"/>
<path d="M145.78,1101.0 L152.28,1107.5 L145.78,1114.0 L139.28,1107.5 Z" fill="#1d6a39" stroke="#000" stroke-width="2.5" stroke-linejoin="round"/>
<path d="M162.66,1143.5 L169.16,1150 L162.66,1156.5 L156.16,1150 Z" fill="#1d6a39" stroke="#000" stroke-width="2.5" stroke-linejoin="round"/>
<path d="M179.54,1162.5 L186.04,1169 L179.54,1175.5 L173.04,1169 Z" fill="#1d6a39" stroke="#000" stroke-width="2.5" stroke-linejoin="round"/>
<path d="M196.42,1169.25 L202.92,1175.75 L196.42,1182.25 L189.92,1175.75 Z" fill="#1d6a39" stroke="#000" stroke-width="2.5" stroke-linejoin="round"/>
<path d="M213.3,1171.0 L219.8,1177.5 L213.3,1184.0 L206.8,1177.5 Z" fill="#1d6a39" stroke="#000" stroke-width="2.5" stroke-linejoin="round"/>
<path d="M230.18,1199.0 L236.68,1205.5 L230.18,1212.0 L223.68,1205.5 Z" fill="#1d6a39" stroke="#000" stroke-width="2.5" stroke-linejoin="round"/>
<path d="M247.06,1230.25 L253.56,1236.75 L247.06,1243.25 L240.56,1236.75 Z" fill="#1d6a39" stroke="#000" stroke-width="2.5" stroke-linejoin="round"/>
<path d="M263.94,1271.0 L270.44,1277.5 L263.94,1284.0 L257.44,1277.5 Z" fill="#1d6a39" stroke="#000" stroke-width="2.5" stroke-linejoin="round"/>
<path d="M280.82,1275.5 L287.32,1282 L280.82,1288.5 L274.32,1282 Z" fill="#1d6a39" stroke="#000" stroke-width="2.5" stroke-linejoin="round"/>
<path d="M297.7,1288.5 L304.2,1295 L297.7,1301.5 L291.2,1295 Z" fill="#1d6a39" stroke="#000" stroke-width="2.5" stroke-linejoin="round"/>
<path d="M314.58,1291.5 L321.08,1298 L314.58,1304.5 L308.08,1298 Z" fill="#1d6a39" stroke="#000" stroke-width="2.5" stroke-linejoin="round"/>
<path d="M331.46,1312.25 L337.96,1318.75 L331.46,1325.25 L324.96,1318.75 Z" fill="#1d6a39" stroke="#000" stroke-width="2.5" stroke-linejoin="round"/>
<path d="M348.34,1317.25 L354.84,1323.75 L348.34,1330.25 L341.84,1323.75 Z" fill="#1d6a39" stroke="#000" stroke-width="2.5" stroke-linejoin="round"/>
<path d="M365.22,1318.5 L371.72,1325 L365.22,1331.5 L358.72,1325 Z" fill="#1d6a39" stroke="#000" stroke-width="2.5" stroke-linejoin="round"/>
<path d="M382.1,1318.5 L388.6,1325 L382.1,1331.5 L375.6,1325 Z" fill="#1d6a39" stroke="#000" stroke-width="2.5" stroke-linejoin="round"/>
<path d="M398.98,1327.25 L405.48,1333.75 L398.98,1340.25 L392.48,1333.75 Z" fill="#1d6a39" stroke="#000" stroke-width="2.5" stroke-linejoin="round"/>
<path d="M415.86,1330.5 L422.36,1337 L415.86,1343.5 L409.36,1337 Z" fill="#1d6a39" stroke="#000" stroke-width="2.5" stroke-linejoin="round"/>
<path d="M432.74,1337.0 L439.24,1343.5 L432.74,1350.0 L426.24,1343.5 Z" fill="#1d6a39" stroke="#000" stroke-width="2.5" stroke-linejoin="round"/>
<path d="M449.62,1338.5 L456.12,1345 L449.62,1351.5 L443.12,1345 Z" fill="#1d6a39" stroke="#000" stroke-width="2.5" stroke-linejoin="round"/>
<path d="M466.5,1344.5 L473.0,1351 L466.5,1357.5 L460.0,1351 Z" fill="#1d6a39" stroke="#000" stroke-width="2.5" stroke-linejoin="round"/>
<path d="M483.38,1346.0 L489.88,1352.5 L483.38,1359.0 L476.88,1352.5 Z" fill="#1d6a39" stroke="#000" stroke-width="2.5" stroke-linejoin="round"/>
<path d="M500.26,1349.75 L506.76,1356.25 L500.26,1362.75 L493.76,1356.25 Z" fill="#1d6a39" stroke="#000" stroke-width="2.5" stroke-linejoin="round"/>
<path d="M517.14,1362.25 L523.64,1368.75 L517.14,1375.25 L510.64,1368.75 Z" fill="#1d6a39" stroke="#000" stroke-width="2.5" stroke-linejoin="round"/>
<path d="M534.02,1364.25 L540.52,1370.75 L534.02,1377.25 L527.52,1370.75 Z" fill="#1d6a39" stroke="#000" stroke-width="2.5" stroke-linejoin="round"/>
<path d="M550.9,1365.5 L557.4,1372 L550.9,1378.5 L544.4,1372 Z" fill="#1d6a39" stroke="#000" stroke-width="2.5" stroke-linejoin="round"/>
<path d="M567.78,1374.25 L574.28,1380.75 L567.78,1387.25 L561.28,1380.75 Z" fill="#1d6a39" stroke="#000" stroke-width="2.5" stroke-linejoin="round"/>
<path d="M584.66,1376.5 L591.16,1383 L584.66,1389.5 L578.16,1383 Z" fill="#1d6a39" stroke="#000" stroke-width="2.5" stroke-linejoin="round"/>
<path d="M601.54,1376.5 L608.04,1383 L601.54,1389.5 L595.04,1383 Z" fill="#1d6a39" stroke="#000" stroke-width="2.5" stroke-linejoin="round"/>
<path d="M618.42,1377.5 L624.92,1384 L618.42,1390.5 L611.92,1384 Z" fill="#1d6a39" stroke="#000" stroke-width="2.5" stroke-linejoin="round"/>
<path d="M635.3,1378.5 L641.8,1385 L635.3,1391.5 L628.8,1385 Z" fill="#1d6a39" stroke="#000" stroke-width="2.5" stroke-linejoin="round"/>
<path d="M652.18,1379.0 L658.68,1385.5 L652.18,1392.0 L645.68,1385.5 Z" fill="#1d6a39" stroke="#000" stroke-width="2.5" stroke-linejoin="round"/>
<path d="M669.06,1382.5 L675.56,1389 L669.06,1395.5 L662.56,1389 Z" fill="#1d6a39" stroke="#000" stroke-width="2.5" stroke-linejoin="round"/>
<path d="M685.94,1386.5 L692.44,1393 L685.94,1399.5 L679.44,1393 Z" fill="#1d6a39" stroke="#000" stroke-width="2.5" stroke-linejoin="round"/>
<path d="M702.82,1394.5 L709.32,1401 L702.82,1407.5 L696.32,1401 Z" fill="#1d6a39" stroke="#000" stroke-width="2.5" stroke-linejoin="round"/>
<path d="M719.7,1394.5 L726.2,1401 L719.7,1407.5 L713.2,1401 Z" fill="#1d6a39" stroke="#000" stroke-width="2.5" stroke-linejoin="round"/>
<path d="M736.58,1396.25 L743.08,1402.75 L736.58,1409.25 L730.08,1402.75 Z" fill="#1d6a39" stroke="#000" stroke-width="2.5" stroke-linejoin="round"/>
<path d="M753.46,1397.7 L759.96,1404.2 L753.46,1410.7 L746.96,1404.2 Z" fill="#1d6a39" stroke="#000" stroke-width="2.5" stroke-linejoin="round"/>
<path d="M770.34,1399.75 L776.84,1406.25 L770.34,1412.75 L763.84,1406.25 Z" fill="#1d6a39" stroke="#000" stroke-width="2.5" stroke-linejoin="round"/>
<path d="M787.22,1405.0 L793.72,1411.5 L787.22,1418.0 L780.72,1411.5 Z" fill="#1d6a39" stroke="#000" stroke-width="2.5" stroke-linejoin="round"/>
<path d="M804.1,1412.9 L810.6,1419.4 L804.1,1425.9 L797.6,1419.4 Z" fill="#1d6a39" stroke="#000" stroke-width="2.5" stroke-linejoin="round"/>
<path d="M820.98,1417.8 L827.48,1424.3 L820.98,1430.8 L814.48,1424.3 Z" fill="#1d6a39" stroke="#000" stroke-width="2.5" stroke-linejoin="round"/>
<path d="M837.86,1419.3 L844.36,1425.8 L837.86,1432.3 L831.36,1425.8 Z" fill="#1d6a39" stroke="#000" stroke-width="2.5" stroke-linejoin="round"/>
<path d="M854.74,1419.3 L861.24,1425.8 L854.74,1432.3 L848.24,1425.8 Z" fill="#1d6a39" stroke="#000" stroke-width="2.5" stroke-linejoin="round"/>
<path d="M871.62,1431.25 L878.12,1437.75 L871.62,1444.25 L865.12,1437.75 Z" fill="#1d6a39" stroke="#000" stroke-width="2.5" stroke-linejoin="round"/>
<path d="M888.5,1435.6 L895.0,1442.1 L888.5,1448.6 L882.0,1442.1 Z" fill="#1d6a39" stroke="#000" stroke-width="2.5" stroke-linejoin="round"/>
<path d="M905.38,1435.6 L911.88,1442.1 L905.38,1448.6 L898.88,1442.1 Z" fill="#1d6a39" stroke="#000" stroke-width="2.5" stroke-linejoin="round"/>
<path d="M922.26,1455.2 L928.76,1461.7 L922.26,1468.2 L915.76,1461.7 Z" fill="#1d6a39" stroke="#000" stroke-width="2.5" stroke-linejoin="round"/>
<path d="M939.14,1466.8 L945.64,1473.3 L939.14,1479.8 L932.64,1473.3 Z" fill="#1d6a39" stroke="#000" stroke-width="2.5" stroke-linejoin="round"/>
<path d="M956.02,1472.7 L962.52,1479.2 L956.02,1485.7 L949.52,1479.2 Z" fill="#1d6a39" stroke="#000" stroke-width="2.5" stroke-linejoin="round"/>
<path d="M972.9,1492.5 L979.4,1499 L972.9,1505.5 L966.4,1499 Z" fill="#1d6a39" stroke="#000" stroke-width="2.5" stroke-linejoin="round"/>
<path d="M989.78,1502.4 L996.28,1508.9 L989.78,1515.4 L983.28,1508.9 Z" fill="#1d6a39" stroke="#000" stroke-width="2.5" stroke-linejoin="round"/>
<path d="M1006.66,1507.7 L1013.16,1514.2 L1006.66,1520.7 L1000.16,1514.2 Z" fill="#1d6a39" stroke="#000" stroke-width="2.5" stroke-linejoin="round"/>
<path d="M1023.54,1558.0 L1030.04,1564.5 L1023.54,1571.0 L1017.04,1564.5 Z" fill="#1d6a39" stroke="#000" stroke-width="2.5" stroke-linejoin="round"/>
<circle cx="140.0" cy="1016.0" r="1.1" fill="#222"/>
<circle cx="150.0" cy="1017.6" r="1.1" fill="#222"/>
<circle cx="160.0" cy="1019.1" r="1.1" fill="#222"/>
<circle cx="170.0" cy="1020.7" r="1.1" fill="#222"/>
<circle cx="180.0" cy="1022.3" r="1.1" fill="#222"/>
<circle cx="190.0" cy="1023.9" r="1.1" fill="#222"/>
<circle cx="200.0" cy="1025.4" r="1.1" fill="#222"/>
<circle cx="210.0" cy="1027.0" r="1.1" fill="#222"/>
<circle cx="220.0" cy="1028.6" r="1.1" fill="#222"/>
<circle cx="230.0" cy="1030.1" r="1.1" fill="#222"/>
<circle cx="240.0" cy="1031.7" r="1.1" fill="#222"/>
<circle cx="250.0" cy="1033.3" r="1.1" fill="#222"/>
<circle cx="260.0" cy="1034.9" r="1.1" fill="#222"/>
<circle cx="270.0" cy="1036.4" r="1.1" fill="#222"/>
<circle cx="280.0" cy="1038.0" r="1.1" fill="#222"/>
<circle cx="900.0" cy="1539.8" r="1.1" fill="#222"/>
<circle cx="909.5" cy="1541.8" r="1.1" fill="#222"/>
<circle cx="919.0" cy="1543.7" r="1.1" fill="#222"/>
<circle cx="928.4" cy="1545.7" r="1.1" fill="#222"/>
<circle cx="937.9" cy="1547.6" r="1.1" fill="#222"/>
<circle cx="947.4" cy="1549.5" r="1.1" fill="#222"/>
<circle cx="956.9" cy="1551.5" r="1.1" fill="#222"/>
<circle cx="966.4" cy="1553.5" r="1.1" fill="#222"/>
<circle cx="975.8" cy="1555.4" r="1.1" fill="#222"/>
<circle cx="985.3" cy="1557.3" r="1.1" fill="#222"/>
<circle cx="994.8" cy="1559.3" r="1.1" fill="#222"/>
<circle cx="1004.3" cy="1561.2" r="1.1" fill="#222"/>
<circle cx="1013.8" cy="1563.2" r="1.1" fill="#222"/>
<text x="282.4" y="1044.7" font-size="17" fill="#2a2a2a" text-anchor="start" font-weight="normal" font-style="italic" textLength="122" lengthAdjust="spacingAndGlyphs" >Repenomamus</text>
<text x="787.7" y="1544.8" font-size="17" fill="#2a2a2a" text-anchor="start" font-weight="normal" font-style="italic" textLength="106.5" lengthAdjust="spacingAndGlyphs" >Hadrocodium</text>
<text x="342.3" y="1626.9" font-size="31.3" fill="#231f20" text-anchor="start" font-weight="normal" font-style="normal" textLength="384" lengthAdjust="spacingAndGlyphs" >Mesozoic Mammal Species</text>
<path d="M747,1609.95 L753.8,1616.75 L747,1623.55 L740.2,1616.75 Z" fill="#1d6a39" stroke="#000" stroke-width="2.5" stroke-linejoin="round"/>
</svg>
</body></html>
